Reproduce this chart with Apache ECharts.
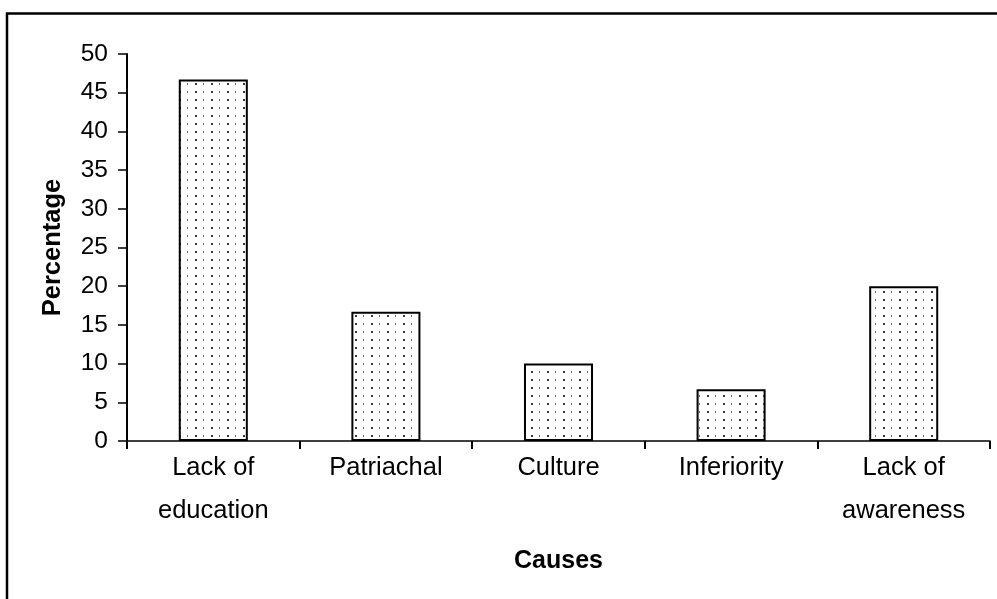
<!DOCTYPE html>
<html>
<head>
<meta charset="utf-8">
<script src="https://cdn.jsdelivr.net/npm/echarts@6/dist/echarts.min.js"></script>
<style>
  html, body { margin: 0; padding: 0; background: #fff; }
  #chart { width: 997px; height: 599px; }
</style>
</head>
<body>
<div id="chart"></div>
<script>
// Causes and their share (%)
const categories = ['Lack of\neducation', 'Patriachal', 'Culture', 'Inferiority', 'Lack of\nawareness'];
const percentages = [46.7, 16.7, 10, 6.7, 20];
const yTicks = { min: 0, max: 50, interval: 5 };

// Stippled fill used for the bars
function dotPattern() {
  const c = document.createElement('canvas');
  c.width = 16; c.height = 8;
  const ctx = c.getContext('2d');
  ctx.fillStyle = '#fff';
  ctx.fillRect(0, 0, 16, 8);
  ctx.fillStyle = '#3a3a3a';
  ctx.fillRect(3, 3, 2, 2);
  ctx.fillStyle = '#6a6a6a';
  ctx.fillRect(11, 3, 1, 2);
  return c;
}

const font = "'Liberation Sans', Arial, sans-serif";
const chart = echarts.init(document.getElementById('chart'), null, { renderer: 'canvas' });

chart.setOption({
  animation: false,
  backgroundColor: '#fff',
  graphic: [{
    type: 'rect',
    shape: { x: 7, y: 13.5, width: 1100, height: 700 },
    style: { fill: 'none', stroke: '#000', lineWidth: 2.5 },
    silent: true
  }],
  grid: { left: 127, right: 7, top: 54, bottom: 158, containLabel: false },
  xAxis: {
    type: 'category',
    data: categories,
    name: 'Causes',
    nameLocation: 'middle',
    nameGap: 108,
    nameTextStyle: { fontFamily: font, fontSize: 25, fontWeight: 'bold', color: '#000' },
    axisLine: { show: true, lineStyle: { color: '#000', width: 1.5 } },
    axisTick: { show: true, alignWithLabel: false, length: 8, lineStyle: { color: '#000', width: 2 } },
    axisLabel: { fontFamily: font, fontSize: 25.5, color: '#000', lineHeight: 43, margin: 5, interval: 0 },
    splitLine: { show: false }
  },
  yAxis: {
    type: 'value',
    min: yTicks.min,
    max: yTicks.max,
    interval: yTicks.interval,
    name: 'Percentage',
    nameLocation: 'middle',
    nameGap: 61,
    nameTextStyle: { fontFamily: font, fontSize: 25.5, fontWeight: 'bold', color: '#000' },
    axisLine: { show: true, lineStyle: { color: '#000', width: 2 } },
    axisTick: { show: true, inside: false, length: 9, lineStyle: { color: '#000', width: 1.5 } },
    axisLabel: { fontFamily: font, fontSize: 24.5, color: '#000', margin: 19 },
    splitLine: { show: false }
  },
  series: [{
    type: 'bar',
    data: percentages,
    barWidth: '40%',
    itemStyle: {
      color: { image: dotPattern(), repeat: 'repeat' },
      borderColor: '#000',
      borderWidth: 2
    }
  }]
});
</script>
</body>
</html>
